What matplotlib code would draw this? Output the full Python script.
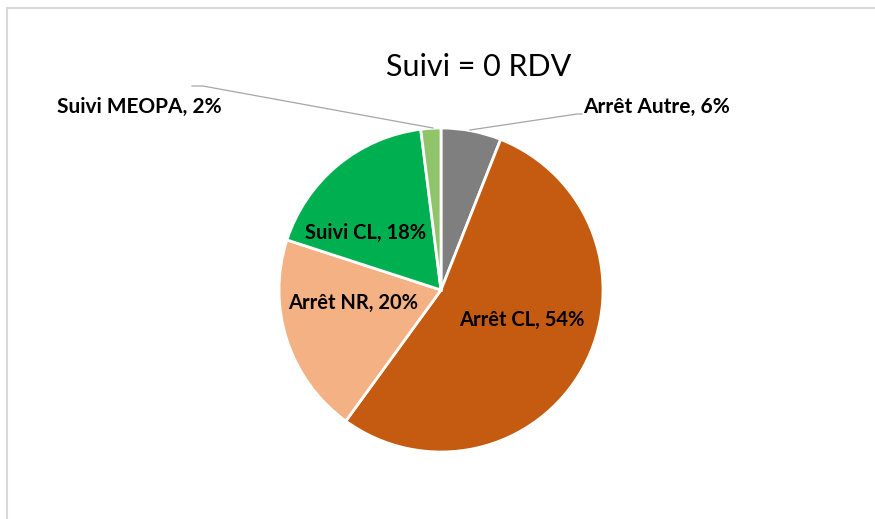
import matplotlib
matplotlib.use("Agg")
import matplotlib.pyplot as plt
from matplotlib.lines import Line2D

labels = ["Arrêt Autre", "Arrêt CL", "Arrêt NR", "Suivi CL", "Suivi MEOPA"]
values = [6, 54, 20, 18, 2]
colors = ["#7f7f7f", "#c55a11", "#f4b183", "#00b050", "#8fc46a"]
title = "Suivi = 0 RDV"

W, H = 875, 519
fig = plt.figure(figsize=(W / 100, H / 100), dpi=100)
fig.patch.set_facecolor("white")
ax = fig.add_axes([0, 0, 1, 1])
ax.set_xlim(0, W)
ax.set_ylim(0, H)
ax.set_aspect("equal")
ax.axis("off")

FONT = "Lato"

def Y(py):
    return H - py

# chart border
fig.add_artist(Line2D([7 / W, 1], [1 - 8 / H, 1 - 8 / H], color="#d9d9d9", lw=1.5, transform=fig.transFigure))
fig.add_artist(Line2D([7 / W, 7 / W], [0, 1 - 8 / H], color="#d9d9d9", lw=1.5, transform=fig.transFigure))

cx, cy, r = 441, 290, 162
wedges, _ = ax.pie(values, colors=colors, startangle=90, counterclock=False,
                   center=(cx, Y(cy)), radius=r,
                   wedgeprops=dict(edgecolor="white", linewidth=2))
ax.set_xlim(0, W)
ax.set_ylim(0, H)

ax.text(479, Y(67), title, ha="center", va="center", fontsize=22, family=FONT, color="#000000")

def lab(i):
    return f"{labels[i]}, {values[i]}%"

# inner labels
inner = {1: (522, 320), 2: (353, 303), 3: (366, 233)}
for i, (px, py) in inner.items():
    ax.text(px, Y(py), lab(i), ha="center", va="center", fontsize=14.5,
            fontweight="bold", family=FONT, color="#000000")

# outer labels with leader lines
ax.plot([470, 577, 582], [Y(130), Y(114), Y(114)], color="#a6a6a6", lw=0.9)
ax.text(583, Y(107), lab(0), ha="left", va="center", fontsize=15,
        fontweight="bold", family=FONT, color="#000000")

ax.plot([433, 203, 192], [Y(128), Y(86), Y(86)], color="#a6a6a6", lw=0.9)
ax.text(222, Y(107), lab(4), ha="right", va="center", fontsize=15,
        fontweight="bold", family=FONT, color="#000000")

fig.savefig("out.png", dpi=100, facecolor="white")
